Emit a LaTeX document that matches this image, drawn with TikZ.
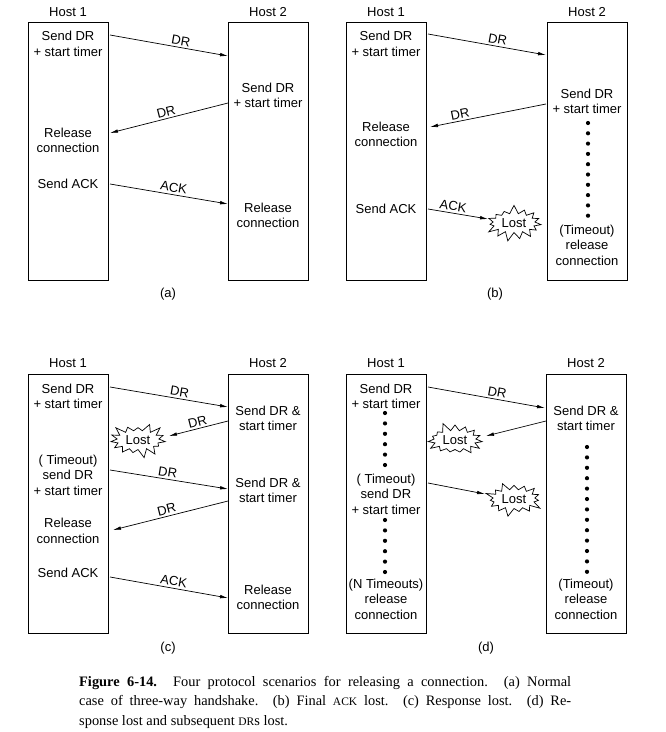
\documentclass[tikz,border=0pt]{standalone}
\usepackage{fontspec}
\setmainfont{Liberation Sans}
\newfontfamily\capfont{Liberation Serif}
\usetikzlibrary{arrows.meta,shapes.symbols}
\begin{document}
\begin{tikzpicture}[x=1pt,y=-1pt,
  every node/.style={font=\fontsize{13}{15.5}\selectfont},
  hostbox/.style={draw,line width=0.9pt,minimum width=80pt,minimum height=258pt,inner sep=0pt},
  txt/.style={align=center,inner sep=0pt},
  msg/.style={line width=0.7pt,-{Latex[length=8pt,width=3.6pt]}},
  lbl/.style={sloped,above,inner sep=2pt},
  lost/.style={starburst,draw,line width=0.7pt,fill=white,starburst points=15,starburst point height=9pt,minimum width=60pt,minimum height=37pt,inner sep=0pt,random starburst=#1},
  dotm/.style={circle,fill,inner sep=0pt,minimum size=4.2pt}
]
\useasboundingbox (0,0) rectangle (666,732);
% ---------------- (a) ----------------
\node (ah1) at (68,12) {Host 1};
\node (ah2) at (268,12) {Host 2};
\node[hostbox] (a1) at (68,151) {};
\node[hostbox] (a2) at (268,151) {};
\node[txt] (a1t1) at (68,44) {Send DR\\+ start timer};
\node[txt] (a1t2) at (68,140.5) {Release\\connection};
\node[txt] (a1t3) at (68,184) {Send ACK};
\node[txt] (a2t1) at (268,95.5) {Send DR\\+ start timer};
\node[txt] (a2t2) at (268,215.5) {Release\\connection};
\node (acap) at (168,294) {(a)};
\coordinate (as1) at (110,35);  \coordinate (ae1) at (228,56);
\coordinate (as2) at (228,103); \coordinate (ae2) at (110,133);
\coordinate (as3) at (110,184); \coordinate (ae3) at (228,204);
\draw[msg] (as1) -- node[lbl,pos=0.59] {DR} (ae1);
\draw[msg] (as2) -- node[lbl,pos=0.51] {DR} (ae2);
\draw[msg] (as3) -- node[lbl,pos=0.53] {ACK} (ae3);
% ---------------- (b) ----------------
\node (bh1) at (386,12) {Host 1};
\node (bh2) at (587,12) {Host 2};
\node[hostbox] (b1) at (386,151) {};
\node[hostbox] (b2) at (587,151) {};
\node[txt] (b1t1) at (386,44) {Send DR\\+ start timer};
\node[txt] (b1t2) at (386,134.5) {Release\\connection};
\node[txt] (b1t3) at (386,209) {Send ACK};
\node[txt] (b2t1) at (587,101.5) {Send DR\\+ start timer};
\node[txt] (b2t2) at (587,245) {(Timeout)\\release\\connection};
\foreach \k in {0,...,9} \node[dotm] (bd\k) at (588,123+10.3*\k) {};
\node (bcap) at (495,294) {(b)};
\node[lost=7] (blost) at (514,223) {Lost};
\coordinate (bs1) at (428,34);  \coordinate (be1) at (546,55);
\coordinate (bs2) at (546,104); \coordinate (be2) at (430,127);
\coordinate (bs3) at (428,209); \coordinate (be3) at (488,219);
\draw[msg] (bs1) -- node[lbl,pos=0.58] {DR} (be1);
\draw[msg] (bs2) -- node[lbl,pos=0.73] {DR} (be2);
\draw[msg] (bs3) -- node[lbl,pos=0.4] {ACK} (be3);
% ---------------- (c) ----------------
\node (ch1) at (68,363) {Host 1};
\node (ch2) at (268,363) {Host 2};
\node[hostbox,minimum height=259pt] (c1) at (68,503.5) {};
\node[hostbox,minimum height=259pt] (c2) at (268,503.5) {};
\node[txt] (c1t1) at (68,396.5) {Send DR\\+ start timer};
\node[txt] (c1t2) at (68,475) {( Timeout)\\send DR\\+ start timer};
\node[txt] (c1t3) at (68,531) {Release\\connection};
\node[txt] (c1t4) at (68,573) {Send ACK};
\node[txt] (c2t1) at (268,418.5) {Send DR \&\\start timer};
\node[txt] (c2t2) at (268,490.5) {Send DR \&\\start timer};
\node[txt] (c2t3) at (268,597.5) {Release\\connection};
\node (ccap) at (168,648) {(c)};
\node[lost=3] (clost) at (138,440) {Lost};
\coordinate (cs1) at (110,387); \coordinate (ce1) at (228,407);
\coordinate (cs2) at (228,421); \coordinate (ce2) at (169,436);
\coordinate (cs3) at (110,470); \coordinate (ce3) at (228,489);
\coordinate (cs4) at (228,501); \coordinate (ce4) at (113,530);
\coordinate (cs5) at (110,577); \coordinate (ce5) at (228,598);
\draw[msg] (cs1) -- node[lbl,pos=0.58] {DR} (ce1);
\draw[msg] (cs2) -- node[lbl,pos=0.49] {DR} (ce2);
\draw[msg] (cs3) -- node[lbl,pos=0.48] {DR} (ce3);
\draw[msg] (cs4) -- node[lbl,pos=0.52] {DR} (ce4);
\draw[msg] (cs5) -- node[lbl,pos=0.53] {ACK} (ce5);
% ---------------- (d) ----------------
\node (dh1) at (386,363) {Host 1};
\node (dh2) at (586,363) {Host 2};
\node[hostbox,minimum height=259pt] (d1) at (386,503.5) {};
\node[hostbox,minimum height=259pt] (d2) at (586,503.5) {};
\node[txt] (d1t1) at (386,396.5) {Send DR\\+ start timer};
\node[txt] (d1t2) at (386,494) {( Timeout)\\send DR\\+ start timer};
\node[txt] (d1t3) at (386,599) {(N Timeouts)\\release\\connection};
\node[txt] (d2t1) at (586,418.5) {Send DR \&\\start timer};
\node[txt] (d2t2) at (586,599) {(Timeout)\\release\\connection};
\foreach \k in {0,...,5} \node[dotm] (dda\k) at (385,413+10.4*\k) {};
\foreach \k in {0,...,5} \node[dotm] (ddb\k) at (385,520+10.4*\k) {};
\foreach \k in {0,...,12} \node[dotm] (ddc\k) at (587,447+10.4*\k) {};
\node (dcap) at (486,648) {(d)};
\node[lost=5] (dlost1) at (455,440) {Lost};
\node[lost=9] (dlost2) at (514,499) {Lost};
\coordinate (ds1) at (428,387); \coordinate (de1) at (545,408);
\coordinate (ds2) at (546,421); \coordinate (de2) at (486,436);
\coordinate (ds3) at (428,483); \coordinate (de3) at (485,494);
\draw[msg] (ds1) -- node[lbl,pos=0.58] {DR} (de1);
\draw[msg] (ds2) -- (de2);
\draw[msg] (ds3) -- (de3);
% ---------------- caption ----------------
\node[anchor=north west,inner sep=0pt,text width=492pt,align=justify,
      font=\capfont\fontsize{14.4}{19.5}\selectfont] (cap) at (79,676)
 {\textbf{Figure 6-14.} Four protocol scenarios for releasing a connection. (a) Normal\linebreak
 case of three-way handshake. (b) Final {\fontsize{11.5}{12}\selectfont ACK} lost. (c) Response lost. (d) Re-\linebreak
 sponse lost and subsequent {\fontsize{11.5}{12}\selectfont DR}s lost.};
\end{tikzpicture}
\end{document}
